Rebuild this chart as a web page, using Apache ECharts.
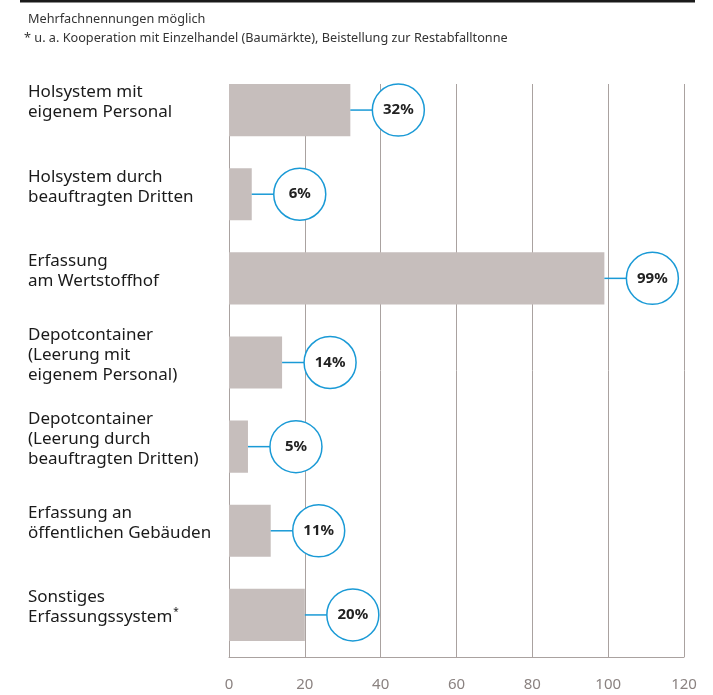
<!DOCTYPE html>
<html>
<head>
<meta charset="utf-8">
<script src="https://cdn.jsdelivr.net/npm/echarts@6/dist/echarts.min.js"></script>
<style>
  html, body { margin: 0; padding: 0; background: #ffffff; }
  #main { width: 713px; height: 695px; }
</style>
</head>
<body>
<div id="main"></div>
<script>
// Kategorien (von oben nach unten)
const categories = [
  'Holsystem mit\neigenem Personal',
  'Holsystem durch\nbeauftragten Dritten',
  'Erfassung\nam Wertstoffhof',
  'Depotcontainer\n(Leerung mit\neigenem Personal)',
  'Depotcontainer\n(Leerung durch\nbeauftragten Dritten)',
  'Erfassung an\nöffentlichen Gebäuden',
  'Sonstiges\nErfassungssystem{sup|*}'
];
const values = [32, 6, 99, 14, 5, 11, 20];
const xTicks = [0, 20, 40, 60, 80, 100, 120];

const FONT = '"Noto Sans", sans-serif';
const BLUE = '#1a9ad6';
const GRID_COLOR = '#aaa2a0';

const chart = echarts.init(document.getElementById('main'));

const option = {
  backgroundColor: '#ffffff',
  animation: false,
  textStyle: { fontFamily: FONT },
  graphic: [
    { type: 'rect', shape: { x: 20, y: 0, width: 675, height: 2.5 }, style: { fill: '#1a1a1a' } },
    { type: 'text', left: 28, top: 13, style: { text: 'Mehrfachnennungen möglich', font: '12.7px ' + FONT, fill: '#333333' } },
    { type: 'text', left: 24, top: 32, style: { text: '* u. a. Kooperation mit Einzelhandel (Baumärkte), Beistellung zur Restabfalltonne', font: '12.7px ' + FONT, fill: '#333333' } }
  ],
  grid: [
    // Raster + Achse
    { left: 229, right: 29, top: 84, bottom: 38 },
    // Balken
    { left: 229, right: 29, top: 68, bottom: 38 }
  ],
  xAxis: [
    {
      gridIndex: 0, type: 'value', min: xTicks[0], max: xTicks[xTicks.length - 1], interval: 20,
      axisLine: { show: true, lineStyle: { color: GRID_COLOR, width: 1 } },
      axisTick: { show: false },
      splitLine: { show: true, lineStyle: { color: GRID_COLOR, width: 1 } },
      axisLabel: { color: '#8a8280', fontSize: 15, margin: 20, fontFamily: FONT }
    },
    {
      gridIndex: 1, type: 'value', min: 0, max: 120, show: false
    }
  ],
  yAxis: [
    {
      gridIndex: 0, type: 'category', data: categories, show: false
    },
    {
      gridIndex: 1, type: 'category', data: categories, inverse: true,
      axisLine: { show: false },
      axisTick: { show: false },
      axisLabel: {
        align: 'left',
        margin: 201,
        color: '#1a1a1a',
        fontSize: 17,
        lineHeight: 20,
        padding: [0, 0, 15, 0],
        fontFamily: FONT,
        rich: {
          sup: { fontSize: 10, verticalAlign: 'top', lineHeight: 20, color: '#1a1a1a', padding: [0, 0, 8, 1] }
        }
      }
    }
  ],
  series: [
    {
      type: 'bar',
      xAxisIndex: 1,
      yAxisIndex: 1,
      data: values,
      barCategoryGap: '38%',
      itemStyle: { color: '#c6bebc' },
      z: 2
    },
    {
      type: 'custom',
      xAxisIndex: 1,
      yAxisIndex: 1,
      data: values.map((v, i) => [v, i]),
      z: 5,
      renderItem: function (params, api) {
        const p = api.coord([api.value(0), api.value(1)]);
        const r = 26;
        const cx = p[0] + 48;
        return {
          type: 'group',
          children: [
            { type: 'line', shape: { x1: p[0], y1: p[1], x2: cx - r, y2: p[1] }, style: { stroke: BLUE, lineWidth: 1.5 } },
            { type: 'circle', shape: { cx: cx, cy: p[1], r: r }, style: { fill: '#ffffff', stroke: BLUE, lineWidth: 1.5 } },
            { type: 'text', style: { x: cx, y: p[1], text: api.value(0) + '%', align: 'center', verticalAlign: 'middle', font: 'bold 15px ' + FONT, fill: '#222222' } }
          ]
        };
      }
    }
  ]
};

chart.setOption(option);
</script>
</body>
</html>
